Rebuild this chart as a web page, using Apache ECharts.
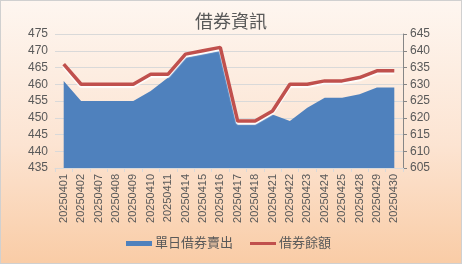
<!DOCTYPE html>
<html><head><meta charset="utf-8">
<script src="https://cdn.jsdelivr.net/npm/echarts@6/dist/echarts.min.js"></script>
<style>html,body{margin:0;padding:0;}#c{width:462px;height:264px;box-sizing:border-box;border:1px solid #D0D0D0;background:linear-gradient(180deg,#FEF6F0 0%,#FCE4D2 55%,#F9CCA6 100%);}</style>
</head><body><div id="c"></div>
<script>
const categories = ['20250401','20250402','20250407','20250408','20250409','20250410','20250411','20250414','20250415','20250416','20250417','20250418','20250421','20250422','20250423','20250424','20250425','20250428','20250429','20250430'];
const dailyShortSell = [461,455,455,455,455,458,462,468,469,470,448,448,451,449,453,456,456,457,459,459];
const shortBalance = [636,630,630,630,630,633,633,639,640,641,619,619,622,630,630,631,631,632,634,634];
const leftTicks = {min:435, max:475, interval:5};
const rightTicks = {min:605, max:645, interval:5};

const font = '"Liberation Sans", "Noto Sans CJK TC", sans-serif';
const chart = echarts.init(document.getElementById('c'), null, {renderer:'canvas'});
chart.setOption({
  backgroundColor: 'transparent',
  textStyle: {fontFamily: font},
  title: {text: '借券資訊', left: 'center', top: 8,
    textStyle: {fontSize: 18, color: '#595959', fontWeight: 'normal', fontFamily: font}},
  legend: {bottom: 8, left: 120, itemGap: 17, itemWidth: 26, itemHeight: 6, symbolKeepAspect: true,
    textStyle: {fontSize: 13, color: '#595959', fontFamily: font, padding: [0,0,0,-2]},
    data: [{name:'單日借券賣出', icon:'path://M0,0h26v5h-26z'}, {name:'借券餘額', icon:'path://M0,0h26v3h-26z', itemStyle:{color:'#C0504D'}}]},
  grid: {left: 54, right: 58, top: 33, bottom: 95},
  xAxis: {type: 'category', data: categories, boundaryGap: true,
    axisLine: {show: true, lineStyle: {color: '#D9D9D9'}},
    axisTick: {show: true, lineStyle: {color: '#D9D9D9'}, length: 4},
    axisLabel: {rotate: 90, fontSize: 11, color: '#595959', margin: 6, interval: 0, fontFamily: font}},
  yAxis: [
    {type: 'value', min: leftTicks.min, max: leftTicks.max, interval: leftTicks.interval,
      axisLine: {show: false}, axisTick: {show: false},
      axisLabel: {fontSize: 12, color: '#595959', margin: 7, fontFamily: font},
      splitLine: {lineStyle: {color: '#D9D9D9'}}},
    {type: 'value', min: rightTicks.min, max: rightTicks.max, interval: rightTicks.interval,
      position: 'right',
      axisLine: {show: true, lineStyle: {color: '#868686'}},
      axisTick: {show: true, length: 4, lineStyle: {color: '#868686'}},
      axisLabel: {fontSize: 12, color: '#595959', margin: 7, fontFamily: font},
      splitLine: {show: false}}
  ],
  series: [
    {name: '單日借券賣出', type: 'line', yAxisIndex: 0, data: dailyShortSell,
      symbol: 'none', smooth: false, silent: true,
      lineStyle: {width: 0, color: '#4F81BD'},
      itemStyle: {color: '#4F81BD'},
      areaStyle: {color: '#4F81BD', opacity: 1}},
    {name: '借券餘額', type: 'line', yAxisIndex: 1, data: shortBalance,
      symbol: 'none', smooth: false, silent: true,
      lineStyle: {width: 3.5, color: '#C0504D', shadowColor: 'rgba(255,255,255,0.9)', shadowOffsetY: 2, shadowBlur: 1},
      itemStyle: {color: '#C0504D'}}
  ],
  animation: false
});
</script></body></html>
